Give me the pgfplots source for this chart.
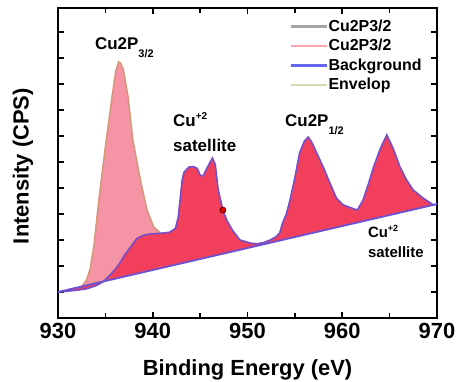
\documentclass[border=0pt]{standalone}
\usepackage{fontspec}
\setmainfont{Liberation Sans}
\usepackage{pgfplots}
\pgfplotsset{compat=1.18}
\definecolor{pinkfill}{RGB}{244,148,164}
\definecolor{tanline}{RGB}{214,150,120}
\definecolor{darkfill}{RGB}{242,64,92}
\definecolor{purpline}{RGB}{118,78,200}
\definecolor{bgline}{RGB}{108,82,210}
\definecolor{leggray}{RGB}{165,165,165}
\definecolor{legpink}{RGB}{248,165,180}
\definecolor{legblue}{RGB}{100,100,238}
\definecolor{legolive}{RGB}{214,218,176}
\begin{document}
\begin{tikzpicture}
\begin{axis}[
  scale only axis,
  width=379bp, height=310bp,
  xmin=930, xmax=970, ymin=0, ymax=11.92,
  xtick={930,940,950,960,970},
  minor xtick={935,945,955,965},
  ytick={1,2,3,4,5,6,7,8,9,10,11},
  yticklabels={},
  tick align=inside,
  major tick length=6bp, minor tick length=5bp,
  tick style={line width=1.6bp, black},
  axis line style={line width=2.2bp},
  xticklabel style={font=\fontsize{22}{24}\selectfont\bfseries, yshift=-2bp},
  /pgf/number format/assume math mode=true,
  /pgf/number format/1000 sep={},
  xlabel={Binding Energy (eV)},
  ylabel={Intensity (CPS)},
  xlabel style={font=\fontsize{22}{24}\selectfont\bfseries, at={(axis description cs:0.5,-0.184)}, anchor=base},
  ylabel style={font=\fontsize{22}{24}\selectfont\bfseries, at={(axis description cs:-0.0923,0.49)}, anchor=center, rotate=0},
  legend style={at={(0.604,0.971)}, anchor=north west, draw=none, fill=none,
    font=\fontsize{16}{18}\selectfont\bfseries, row sep=4.5bp,
    nodes={inner sep=0pt, text height=12bp, text depth=3bp},
    /tikz/every even column/.append style={column sep=5bp}},
  legend cell align=left,
  legend image code/.code={\draw[#1] (0bp,0bp) -- (36bp,0bp);},
]
\addlegendimage{leggray, line width=2.5bp}
\addlegendentry{Cu2P3/2}
\addlegendimage{legpink, line width=2.5bp}
\addlegendentry{Cu2P3/2}
\addlegendimage{legblue, line width=2.5bp}
\addlegendentry{Background}
\addlegendimage{legolive, line width=2.5bp}
\addlegendentry{Envelop}

% light pink Cu2P3/2 peak
\addplot[forget plot, fill=pinkfill, draw=none] coordinates {
(932.5,1.21) (933.0,1.45) (933.4,1.9) (933.8,2.8) (934.3,4.5) (935.0,6.58) (935.7,8.5) (936.1,9.5) (936.4,9.85) (936.6,9.8) (936.9,9.55) (937.4,8.5) (937.9,6.85) (938.7,5.3) (939.4,4.15) (940.1,3.5) (940.8,3.27) (941.5,3.0) (942.5,2.6) (943.5,2.35) (944.5,2.25) (944.5,2.23) (932.5,1.21)
} -- cycle;
\addplot[forget plot, tanline, line width=1.5bp] coordinates {
(932.5,1.21) (933.0,1.45) (933.4,1.9) (933.8,2.8) (934.3,4.5) (935.0,6.58) (935.7,8.5) (936.1,9.5) (936.4,9.85) (936.6,9.8) (936.9,9.55) (937.4,8.5) (937.9,6.85) (938.7,5.3) (939.4,4.15) (940.1,3.5) (940.8,3.27)
};

% dark region (envelope above background)
\addplot[forget plot, fill=darkfill, draw=none] coordinates {
(930,1.0) (931,1.03) (932,1.07) (933,1.12) (934,1.24) (934.8,1.4) (935.3,1.58) (936,1.85) (936.5,2.1) (937,2.4) (937.6,2.7) (938.3,3.05) (939,3.18) (939.7,3.23) (940.5,3.25) (941.2,3.27) (941.8,3.3) (942.4,3.45) (942.7,3.9) (942.9,4.6) (943.1,5.3) (943.3,5.6) (943.8,5.8) (944.3,5.82) (944.7,5.75) (945.0,5.5) (945.3,5.45) (945.7,5.75) (946.0,5.95) (946.3,6.15) (946.6,5.9) (946.9,4.95) (947.4,4.15) (947.8,3.77) (948.4,3.38) (949.2,3.0) (950.3,2.88) (951,2.85) (951.7,2.9) (952.4,3.0) (953,3.12) (953.4,3.27) (953.7,3.65) (954.1,4.0) (954.5,4.55) (955,5.4) (955.5,6.35) (956,6.8) (956.4,6.96) (956.8,6.75) (957.3,6.35) (958,5.8) (958.7,5.19) (959.4,4.6) (960.1,4.35) (960.8,4.25) (961.6,4.15) (962.2,4.54) (962.8,5.2) (963.3,5.8) (964,6.5) (964.7,7.04) (965.4,6.5) (966.1,5.8) (966.8,5.3) (967.5,4.92) (968.5,4.62) (969.6,4.35) (970,4.38)
} -- cycle;
\addplot[forget plot, purpline, line width=1.6bp] coordinates {
(930,1.0) (931,1.03) (932,1.07) (933,1.12) (934,1.24) (934.8,1.4) (935.3,1.58) (936,1.85) (936.5,2.1) (937,2.4) (937.6,2.7) (938.3,3.05) (939,3.18) (939.7,3.23) (940.5,3.25) (941.2,3.27) (941.8,3.3) (942.4,3.45) (942.7,3.9) (942.9,4.6) (943.1,5.3) (943.3,5.6) (943.8,5.8) (944.3,5.82) (944.7,5.75) (945.0,5.5) (945.3,5.45) (945.7,5.75) (946.0,5.95) (946.3,6.15) (946.6,5.9) (946.9,4.95) (947.4,4.15) (947.8,3.77) (948.4,3.38) (949.2,3.0) (950.3,2.88) (951,2.85) (951.7,2.9) (952.4,3.0) (953,3.12) (953.4,3.27) (953.7,3.65) (954.1,4.0) (954.5,4.55) (955,5.4) (955.5,6.35) (956,6.8) (956.4,6.96) (956.8,6.75) (957.3,6.35) (958,5.8) (958.7,5.19) (959.4,4.6) (960.1,4.35) (960.8,4.25) (961.6,4.15) (962.2,4.54) (962.8,5.2) (963.3,5.8) (964,6.5) (964.7,7.04) (965.4,6.5) (966.1,5.8) (966.8,5.3) (967.5,4.92) (968.5,4.62) (969.6,4.35) (970,4.38)
};
% background
\addplot[forget plot, bgline, line width=1.8bp] coordinates {(930,1.0) (970,4.38)};
% marker
\addplot[forget plot, only marks, mark=*, mark size=3bp, mark options={fill=red!90!black, draw=red!40!black, line width=0.8bp}] coordinates {(947.4,4.15)};

% annotations
\node[anchor=base west, font=\fontsize{17}{19}\selectfont\bfseries, inner sep=0pt] at (axis cs:933.9,10.31) {Cu2P\raisebox{-8bp}{\fontsize{11}{12}\selectfont 3/2}};
\node[anchor=base west, font=\fontsize{17}{19}\selectfont\bfseries, inner sep=0pt] at (axis cs:942.14,7.35) {Cu\raisebox{7bp}{\fontsize{10}{11}\selectfont +2}};
\node[anchor=base west, font=\fontsize{17}{19}\selectfont\bfseries, inner sep=0pt] at (axis cs:942.14,6.42) {satellite};
\node[anchor=base west, font=\fontsize{17}{19}\selectfont\bfseries, inner sep=0pt] at (axis cs:953.96,7.35) {Cu2P\raisebox{-8bp}{\fontsize{11}{12}\selectfont 1/2}};
\node[anchor=base west, font=\fontsize{15}{17}\selectfont\bfseries, inner sep=0pt] at (axis cs:962.7,3.08) {Cu\raisebox{6bp}{\fontsize{9}{10}\selectfont +2}};
\node[anchor=base west, font=\fontsize{15}{17}\selectfont\bfseries, inner sep=0pt] at (axis cs:962.7,2.31) {satellite};
\end{axis}
\pgfresetboundingbox
\path[use as bounding box] ([xshift=-58bp,yshift=-64bp]current axis.south west) rectangle ([xshift=23bp,yshift=8bp]current axis.north east);
\end{tikzpicture}
\end{document}
